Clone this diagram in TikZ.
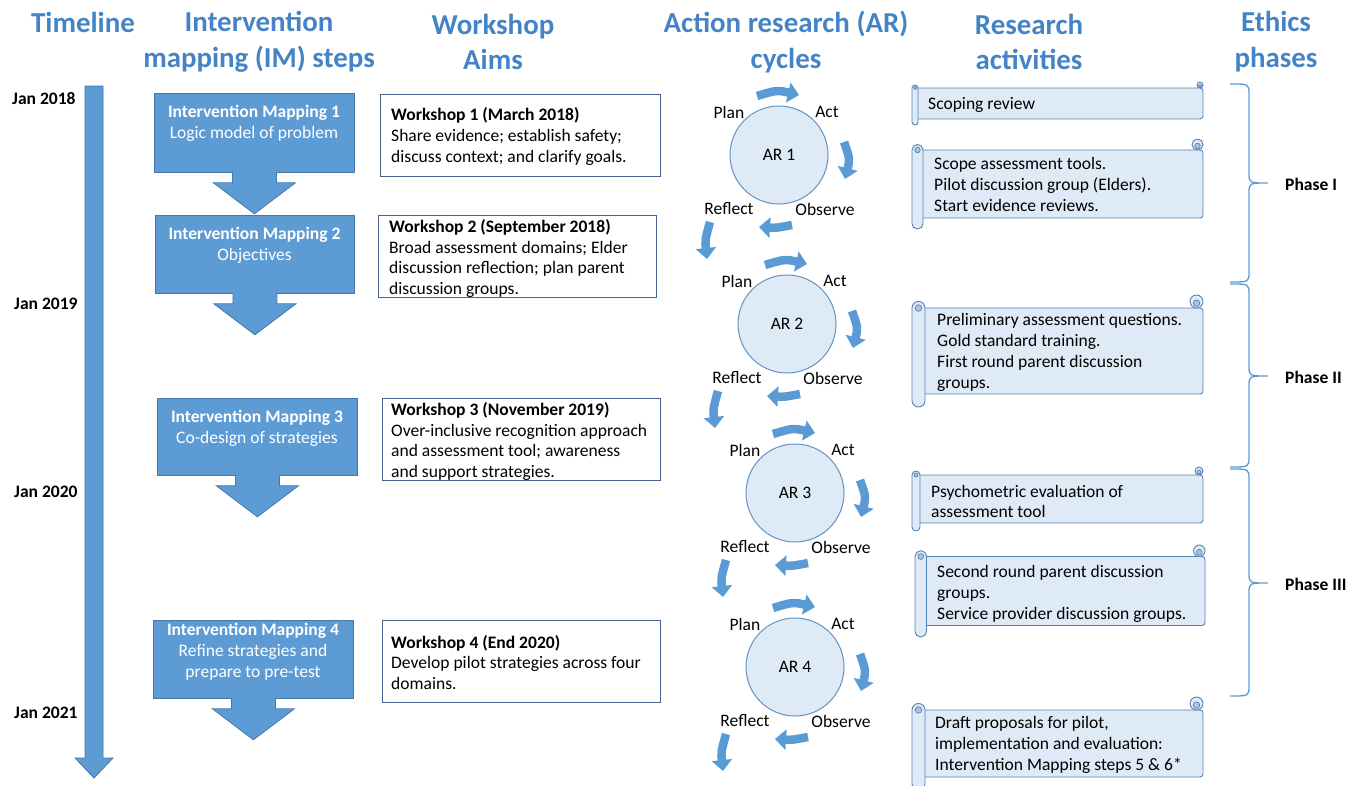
\documentclass[tikz,border=0pt]{standalone}
\usepackage{fontspec}
\setmainfont{Carlito}
\usetikzlibrary{arrows.meta,calc}
\definecolor{hdrblue}{RGB}{68,132,198}
\definecolor{imblue}{RGB}{93,155,213}
\definecolor{imborder}{RGB}{70,120,170}
\definecolor{arblue}{RGB}{91,155,213}
\definecolor{lightfill}{RGB}{222,235,247}
\definecolor{circline}{RGB}{100,145,190}
\definecolor{scrline}{RGB}{85,130,180}
\definecolor{scrdark}{RGB}{175,195,220}
\definecolor{wsline}{RGB}{70,100,140}
\definecolor{braceblue}{RGB}{91,155,213}
\newcommand\bodyfont{\fontsize{17.6}{21}\selectfont}
\newcommand\hdrfont{\fontsize{29}{36}\selectfont\bfseries}
\tikzset{
 hdr/.style={font=\hdrfont, text=hdrblue, align=center, inner sep=0},
 datelab/.style={font=\bodyfont\bfseries, anchor=west, inner sep=0, yshift=-1.5bp},
 imbox/.style={draw=imborder, fill=imblue, line width=0.8bp, inner sep=0, anchor=north west},
 imshape/.style={draw=imborder, fill=imblue, line width=0.8bp},
 imtxt/.style={font=\bodyfont, text=white, align=center, inner sep=0, yshift=-2bp},
 wsbox/.style={draw=wsline, line width=1bp, fill=white, inner sep=0, anchor=north west},
 bodytxt/.style={font=\bodyfont, align=left, inner sep=0, anchor=west, yshift=-1.5bp},
 arcirc/.style={circle, draw=circline, fill=lightfill, line width=1bp, minimum size=98bp, inner sep=0, font=\bodyfont},
 arlab/.style={font=\bodyfont, inner sep=0, yshift=-1bp},
 cyc/.style={draw=arblue, line width=8.5bp, -{Triangle[width=20bp,length=11bp]}},
 scroll/.style={draw=scrline, fill=lightfill, line width=0.9bp},
 scrolldark/.style={draw=scrline, fill=scrdark, line width=0.7bp},
 bracelin/.style={draw=braceblue, line width=1.3bp},
 phase/.style={font=\bodyfont\bfseries, anchor=west, inner sep=0, yshift=-1.5bp},
}
% #1 node, arrow below an IM box
\newcommand\imarrow[1]{%
 \filldraw[imshape] ($(#1.south)+(-22,-1)$) -- ++(0,11) -- ++(-19,0) -- ++(41,31) -- ++(41,-31) -- ++(-19,0) -- ++(0,-11);}
% #1 name #2 x #3 y #4 number
\newcommand\arcyc[4]{%
 \begin{scope}[shift={(#2,#3)}]
  \node[arcirc] (#1) at (0,0) {AR #4};
  \node[arlab] (#1p) at (-50,-44) {Plan};
  \node[arlab] (#1a) at (48,-44) {Act};
  \node[arlab] (#1r) at (-50,53) {Reflect};
  \node[arlab] (#1o) at (46,53) {Observe};
  \draw[cyc] (-22,-59) .. controls (-2,-65) .. (20,-60);
  \draw[cyc] (65,-13) .. controls (71,4) .. (66,24);
  \draw[cyc] (13,70) .. controls (-3,73) .. (-20,72);
  \draw[cyc] (-69,67) .. controls (-74,85) .. (-72,104);
 \end{scope}}
% scroll: x0 y0 x1 y1 s rollradius
\newcommand\scrollbox[6]{%
 \filldraw[scroll, rounded corners=3bp] ({#1+#5/2},{#2+#5}) rectangle (#3,{#4-#5});
 \filldraw[scroll] ({#3-#5/2},{#2+#5/2}) circle[radius=#5/2];
 \filldraw[scrolldark] ({#3-#5/2},{#2+#5/2+#5/8}) circle[radius=#5/4];
 \filldraw[scroll, rounded corners=#6] (#1,{#2+#5/2}) rectangle ({#1+#5},#4);
 \filldraw[scrolldark] ({#1+#5/2},{#2+#5}) circle[radius=#5/4];}
\newcommand\phasebrace[3]{%
 \draw[bracelin] (1230,#1) .. controls (1249,#1) .. (1249,{#1+10}) -- (1249,{#2-10}) .. controls (1249,#2) .. (1268,#2) .. controls (1249,#2) .. (1249,{#2+10}) -- (1249,{#3-10}) .. controls (1249,#3) .. (1230,#3);}
\begin{document}
\begin{tikzpicture}[x=1bp,y=-1bp]
\useasboundingbox (0,0) rectangle (1356,785);
% headers
\node[hdr] (hTime) at (83,22) {Timeline};
\node[hdr] (hIM) at (259,42) {Intervention\\mapping (IM) steps};
\node[hdr] (hWS) at (493,42) {Workshop\\Aims};
\node[hdr] (hAR) at (786,42) {Action research (AR)\\cycles};
\node[hdr] (hRA) at (1029,42) {Research\\activities};
\node[hdr] (hEth) at (1276,42) {Ethics\\phases};
% timeline
\filldraw[imshape] (85,86) -- (103,86) -- (103,758) -- (113,758) -- (94,778) -- (75,758) -- (85,758) -- cycle;
\node[datelab] (d18) at (12,97) {Jan 2018};
\node[datelab] (d19) at (14,302) {Jan 2019};
\node[datelab] (d20) at (14,490) {Jan 2020};
\node[datelab] (d21) at (14,711) {Jan 2021};
% IM steps
\node[imbox, minimum width=200bp, minimum height=79bp] (im1) at (154,93) {};
\imarrow{im1}
\node[imtxt] (im1t) at (254,121) {\textbf{Intervention Mapping 1}\\Logic model of problem};
\node[imbox, minimum width=199bp, minimum height=78bp] (im2) at (155,215) {};
\imarrow{im2}
\node[imtxt] (im2t) at (254.5,243) {\textbf{Intervention Mapping 2}\\Objectives};
\node[imbox, minimum width=200bp, minimum height=77bp] (im3) at (157,398) {};
\imarrow{im3}
\node[imtxt] (im3t) at (257,426) {\textbf{Intervention Mapping 3}\\Co-design of strategies};
\node[imbox, minimum width=200bp, minimum height=78bp] (im4) at (153,620) {};
\imarrow{im4}
\node[imtxt] (im4t) at (253,650) {\textbf{Intervention Mapping 4}\\Refine strategies and\\prepare to pre-test};
% workshops
\node[wsbox, minimum width=280bp, minimum height=82bp] (ws1) at (380,94) {};
\node[bodytxt] (ws1t) at (391,135) {\textbf{Workshop 1 (March 2018)}\\Share evidence; establish safety;\\discuss context; and clarify goals.};
\node[wsbox, minimum width=278bp, minimum height=82bp] (ws2) at (378,215) {};
\node[bodytxt] (ws2t) at (389,257) {\textbf{Workshop 2 (September 2018)}\\Broad assessment domains; Elder\\discussion reflection; plan parent\\discussion groups.};
\node[wsbox, minimum width=278bp, minimum height=82bp] (ws3) at (382,398) {};
\node[bodytxt] (ws3t) at (391,440) {\textbf{Workshop 3 (November 2019)}\\Over-inclusive recognition approach\\and assessment tool; awareness\\and support strategies.};
\node[wsbox, minimum width=278bp, minimum height=82bp] (ws4) at (382,620) {};
\node[bodytxt] (ws4t) at (391,661) {\textbf{Workshop 4 (End 2020)}\\Develop pilot strategies across four\\domains.};
% AR cycles
\arcyc{ar1}{779}{155}{1}
\arcyc{ar2}{787}{324}{2}
\arcyc{ar3}{795}{493}{3}
\arcyc{ar4}{795}{667}{4}
% research activities
\scrollbox{912}{82}{1203}{125}{6}{2.9bp}
\node[bodytxt] (ra1) at (928,103) {Scoping review};
\scrollbox{912}{139}{1203}{229}{11}{5.4bp}
\node[bodytxt] (ra2) at (934,183) {Scope assessment tools.\\Pilot discussion group (Elders).\\Start evidence reviews.};
\scrollbox{912}{295}{1203}{407}{13}{6.4bp}
\node[bodytxt] (ra3) at (937,351) {Preliminary assessment questions.\\Gold standard training.\\First round parent discussion\\groups.};
\scrollbox{912}{467}{1203}{531}{8}{3.9bp}
\node[bodytxt] (ra4) at (931,500) {Psychometric evaluation of\\assessment tool};
\scrollbox{915}{545}{1205}{637}{11.5}{5.6bp}
\node[bodytxt] (ra5) at (937,592) {Second round parent discussion\\groups.\\Service provider discussion groups.};
\scrollbox{912}{697}{1203}{790}{13}{6.4bp}
\node[bodytxt] (ra6) at (935,743) {Draft proposals for pilot,\\implementation and evaluation:\\Intervention Mapping steps 5 \& 6*};
% ethics phases
\phasebrace{84}{183}{282}
\phasebrace{284}{376}{467}
\phasebrace{469}{583}{696}
\node[phase] (ph1) at (1285,183) {Phase I};
\node[phase] (ph2) at (1285,376) {Phase II};
\node[phase] (ph3) at (1285,583) {Phase III};
\end{tikzpicture}
\end{document}
